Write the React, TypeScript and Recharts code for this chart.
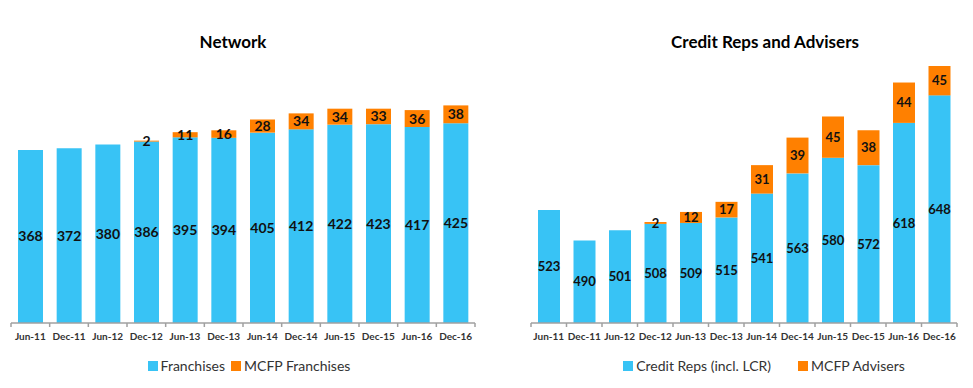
import React from "react";
import { BarChart, Bar, XAxis, YAxis, LabelList, Legend } from "recharts";

const periods = ["Jun-11","Dec-11","Jun-12","Dec-12","Jun-13","Dec-13","Jun-14","Dec-14","Jun-15","Dec-15","Jun-16","Dec-16"];
const franchises = [368,372,380,386,395,394,405,412,422,423,417,425];
const mcfpFranchises = [null,null,null,2,11,16,28,34,34,33,36,38];
const creditReps = [523,490,501,508,509,515,541,563,580,572,618,648];
const mcfpAdvisers = [null,null,null,2,12,17,31,39,45,38,44,45];

const BLUE = "#38C3F5";
const ORANGE = "#FF8000";
const AXIS = "#A0A0A0";
const FONT = "Lato, 'Open Sans', sans-serif";

const networkData = periods.map((p, i) => ({ period: p, a: franchises[i], b: mcfpFranchises[i] }));
const creditData = periods.map((p, i) => ({ period: p, a: creditReps[i], b: mcfpAdvisers[i] }));

function makeLegend(items: { label: string; color: string }[], gap: number, shift: number) {
  return () => (
    <div style={{ height: 37, display: "flex", alignItems: "center", justifyContent: "center", paddingBottom: 8, paddingLeft: shift, boxSizing: "border-box", fontFamily: FONT, fontSize: 14, color: "#333" }}>
      {items.map((it, i) => (
        <div key={i} style={{ display: "flex", alignItems: "center", marginLeft: i ? gap : 0 }}>
          <span style={{ display: "inline-block", width: 10, height: 10, background: it.color, marginRight: 3 }} />
          <span>{it.label}</span>
        </div>
      ))}
    </div>
  );
}

function makeTick(band: number, count: number) {
  return (props: any) => {
    const { x, y, payload, index } = props;
    const axisY = y - 9;
    const half = band / 2;
    return (
      <g>
        <line x1={x - half} x2={x - half} y1={axisY} y2={axisY + 4} stroke={AXIS} strokeWidth={1.5} />
        {index === count - 1 ? <line x1={x + half} x2={x + half} y1={axisY} y2={axisY + 4} stroke={AXIS} strokeWidth={1.5} /> : null}
        <text x={x} y={y + 1} dy="0.71em" textAnchor="middle" fontFamily={FONT} fontSize={10} fontWeight={700} fill="#333">{payload.value}</text>
      </g>
    );
  };
}

type PanelProps = {
  data: any[];
  width: number;
  left: number;
  right: number;
  top: number;
  domain: [number, number];
  barSize: number;
  labelSize: number;
  legend: () => React.ReactElement;
};

function Panel({ data, width, left, right, top, domain, barSize, labelSize, legend }: PanelProps) {
  const labelStyle = { fontFamily: FONT, fontWeight: 700, fontSize: labelSize, fill: "#111" };
  const band = (width - left - right) / data.length;
  return (
    <BarChart width={width} height={388} data={data} margin={{ top, left, right, bottom: 0 }}>
      <XAxis dataKey="period" height={28} stroke={AXIS} strokeWidth={1.5} tickLine={false} tickSize={5} tickMargin={4} interval={0}
        tick={makeTick(band, data.length)} />
      <YAxis hide domain={domain} allowDataOverflow />
      <Legend verticalAlign="bottom" content={legend} />
      <Bar dataKey="a" stackId="s" fill={BLUE} barSize={barSize} isAnimationActive={false}>
        <LabelList dataKey="a" position="center" style={labelStyle} />
      </Bar>
      <Bar dataKey="b" stackId="s" fill={ORANGE} barSize={barSize} isAnimationActive={false}>
        <LabelList dataKey="b" position="center" style={labelStyle} />
      </Bar>
    </BarChart>
  );
}

export default function App() {
  const titleStyle: React.CSSProperties = { position: "absolute", top: 31, fontFamily: FONT, fontWeight: 700, fontSize: 17, color: "#000", textAlign: "center", width: 300 };
  return (
    <div style={{ position: "absolute", left: 0, top: 0, width: 973, height: 388, background: "#fff", overflow: "hidden" }}>
      <div style={{ ...titleStyle, left: 233 - 150 }}>Network</div>
      <div style={{ ...titleStyle, left: 765 - 150 }}>Credit Reps and Advisers</div>
      <div style={{ position: "absolute", left: 0, top: 0 }}>
        <Panel data={networkData} width={486} left={11} right={11} top={88} domain={[0, 500]} barSize={25} labelSize={14}
          legend={makeLegend([{ label: "Franchises", color: BLUE }, { label: "MCFP Franchises", color: ORANGE }], 6, 12)} />
      </div>
      <div style={{ position: "absolute", left: 486, top: 0 }}>
        <Panel data={creditData} width={487} left={45} right={16} top={66} domain={[400, 680]} barSize={22} labelSize={13}
          legend={makeLegend([{ label: "Credit Reps (incl. LCR)", color: BLUE }, { label: "MCFP Advisers", color: ORANGE }], 27, 40)} />
      </div>
    </div>
  );
}
